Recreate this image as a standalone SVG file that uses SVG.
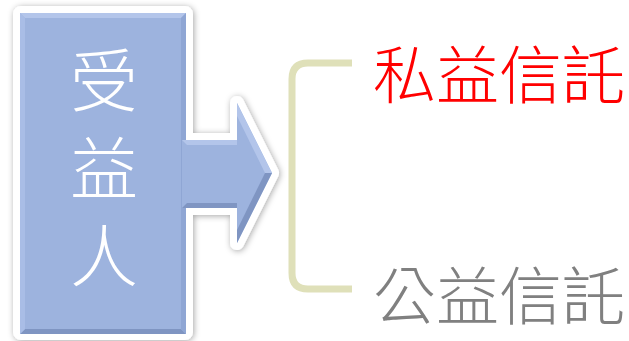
<svg xmlns="http://www.w3.org/2000/svg" width="629" height="341" viewBox="0 0 629 341">
<defs>
<style>
.cjk{font-family:"Noto Sans CJK TC","Noto Sans CJK SC",sans-serif;font-weight:300;}
.white{fill:#ffffff;stroke:#ffffff;stroke-linejoin:round;}
.blue{fill:#9db3de;}
</style>
<filter id="sh" x="-10%" y="-10%" width="120%" height="120%">
<feGaussianBlur in="SourceAlpha" stdDeviation="3"/>
<feOffset dx="1" dy="1" result="b"/>
<feFlood flood-color="#000" flood-opacity="0.35"/>
<feComposite in2="b" operator="in"/>
<feMerge><feMergeNode/><feMergeNode in="SourceGraphic"/></feMerge>
</filter>
</defs>
<g id="beneficiary" filter="url(#sh)">
<rect class="white" x="16" y="9" width="174" height="328" rx="5" stroke-width="6"/>
<polygon class="white" points="182,140 237,140 237,103 272,173 237,243 237,208 182,208" stroke-width="14" stroke-linejoin="miter"/>
<rect class="blue" x="20" y="13" width="166" height="321"/>
<polygon fill="#b3c5ea" points="20,13 186,13 181,18 25,18"/>
<polygon fill="#7f95c2" points="20,334 186,334 181,329 25,329"/>
<polygon fill="#8fa6d4" points="186,13 186,334 181,329 181,18"/>
<polygon fill="#a9bde6" points="20,13 25,18 25,329 20,334"/>
<polygon class="blue" points="182,140 237,140 237,103 272,173 237,243 237,208 182,208"/>
<polygon fill="#b3c5ea" points="182,140 237,140 237,145 187,145"/>
<polygon fill="#7f95c2" points="182,208 237,208 237,203 187,203"/>
<polygon fill="#7f95c2" points="237,243 272,173 265,173 237,230"/>
<polygon fill="#b3c5ea" points="237,103 272,173 265,173 237,116"/>
<text class="cjk" x="104" y="46" font-size="68" fill="#ffffff" style="writing-mode:vertical-rl;letter-spacing:20px">受益人</text>
</g>
<g id="connectors">
<path d="M352,63 H308 Q292,63 292,79 V273 Q292,289 308,289 H352" fill="none" stroke="#dfe0b9" stroke-width="7"/>
</g>
<g id="private-trust">
<text class="cjk" x="373" y="98" font-size="63" fill="#ff0000">私益信託</text>
</g>
<g id="public-trust">
<text class="cjk" x="373" y="319" font-size="63" fill="#808080">公益信託</text>
</g>
</svg>
